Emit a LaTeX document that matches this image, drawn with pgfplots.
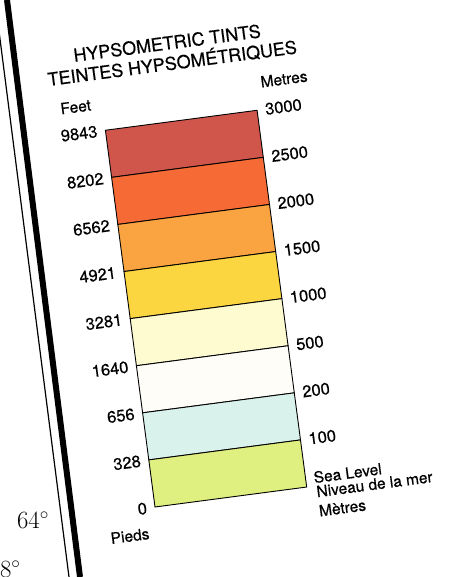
\documentclass[border=0pt]{standalone}
\usepackage{fontspec}
\setmainfont{TeX Gyre Heros}[FakeBold=0.45]
\usepackage{pgfplots}
\pgfplotsset{compat=1.18}
\definecolor{b1}{RGB}{224,240,128}
\definecolor{b2}{RGB}{218,242,236}
\definecolor{b3}{RGB}{254,253,247}
\definecolor{b4}{RGB}{254,251,208}
\definecolor{b5}{RGB}{251,214,64}
\definecolor{b6}{RGB}{249,164,64}
\definecolor{b7}{RGB}{246,106,54}
\definecolor{b8}{RGB}{208,86,76}
\newcommand{\numf}{\fontsize{16.5bp}{18bp}\selectfont}
\newcommand{\txtf}{\fontsize{15.5bp}{16bp}\selectfont}
\newcommand{\ttlf}{\fontsize{18bp}{19bp}\selectfont}
\tikzset{
  lbl/.style={inner sep=0pt, rotate=7.5},
  L/.style={lbl, anchor=east, font=\numf, xshift=-8bp},
  R/.style={lbl, anchor=west, font=\numf, xshift=8bp},
}
\begin{document}
\begin{tikzpicture}[x=1bp,y=1bp]
\useasboundingbox (0,0) rectangle (472,577);
\fill[white] (0,0) rectangle (472,577);
\draw[line width=1.2bp] (-5,577) -- (69,0);
\draw[line width=6bp] (7,577) -- (80,0);
\node[font=\fontsize{24bp}{26bp}\selectfont] at (33,57) {$64^\circ$};
\node[font=\fontsize{24bp}{26bp}\selectfont, anchor=east] at (24,8) {$8^\circ$};
\begin{axis}[
  anchor=origin, at={(155bp,70bp)},
  rotate around={7.5:(current axis.origin)},
  width=153bp, height=380bp, scale only axis,
  xmin=0, xmax=1, ymin=0, ymax=8,
  hide axis, clip=false,
  ybar stacked, bar width=1,
]
\addplot[fill=b1, draw=black, line width=0.9bp] coordinates {(0.5,1)};
\addplot[fill=b2, draw=black, line width=0.9bp] coordinates {(0.5,1)};
\addplot[fill=b3, draw=black, line width=0.9bp] coordinates {(0.5,1)};
\addplot[fill=b4, draw=black, line width=0.9bp] coordinates {(0.5,1)};
\addplot[fill=b5, draw=black, line width=0.9bp] coordinates {(0.5,1)};
\addplot[fill=b6, draw=black, line width=0.9bp] coordinates {(0.5,1)};
\addplot[fill=b7, draw=black, line width=0.9bp] coordinates {(0.5,1)};
\addplot[fill=b8, draw=black, line width=0.9bp] coordinates {(0.5,1)};
\coordinate (L0) at (axis cs:0,0);
\coordinate (L1) at (axis cs:0,1);
\coordinate (L2) at (axis cs:0,2);
\coordinate (L3) at (axis cs:0,3);
\coordinate (L4) at (axis cs:0,4);
\coordinate (L5) at (axis cs:0,5);
\coordinate (L6) at (axis cs:0,6);
\coordinate (L7) at (axis cs:0,7);
\coordinate (L8) at (axis cs:0,8);
\coordinate (R0) at (axis cs:1,0);
\coordinate (R1) at (axis cs:1,1);
\coordinate (R2) at (axis cs:1,2);
\coordinate (R3) at (axis cs:1,3);
\coordinate (R4) at (axis cs:1,4);
\coordinate (R5) at (axis cs:1,5);
\coordinate (R6) at (axis cs:1,6);
\coordinate (R7) at (axis cs:1,7);
\coordinate (R8) at (axis cs:1,8);
\end{axis}
% left labels (feet)
\node[L] at (L0) {0};
\node[L] at (L1) {328};
\node[L] at (L2) {656};
\node[L] at (L3) {1640};
\node[L] at (L4) {3281};
\node[L] at (L5) {4921};
\node[L] at (L6) {6562};
\node[L] at (L7) {8202};
\node[L] at (L8) {9843};
% right labels (metres)
\node[R] at (R1) {100};
\node[R] at (R2) {200};
\node[R] at (R3) {500};
\node[R] at (R4) {1000};
\node[R] at (R5) {1500};
\node[R] at (R6) {2000};
\node[R] at (R7) {2500};
\node[R] at (R8) {3000};
\node[lbl, anchor=east, font=\txtf, xshift=-11bp, yshift=27bp] at (L8) {Feet};
\node[lbl, anchor=east, font=\txtf, xshift=-9bp, yshift=-25.5bp] at (L0) {Pieds};
\node[lbl, anchor=west, font=\txtf, xshift=7bp, yshift=27.5bp] at (R8) {Metres};
\node[lbl, anchor=west, font=\txtf, xshift=8bp, yshift=8.5bp] at (R0) {Sea Level};
\node[lbl, anchor=west, font=\txtf, xshift=9bp, yshift=-6bp] at (R0) {Niveau de la mer};
\node[lbl, anchor=west, font=\txtf, xshift=9bp, yshift=-25.4bp] at (R0) {Mètres};
\node[lbl, font=\ttlf, xshift=72.5bp, yshift=78.4bp] at (L8) {HYPSOMETRIC TINTS};
\node[lbl, font=\ttlf, xshift=75bp, yshift=59bp] at (L8) {TEINTES HYPSOMÉTRIQUES};
\end{tikzpicture}
\end{document}
